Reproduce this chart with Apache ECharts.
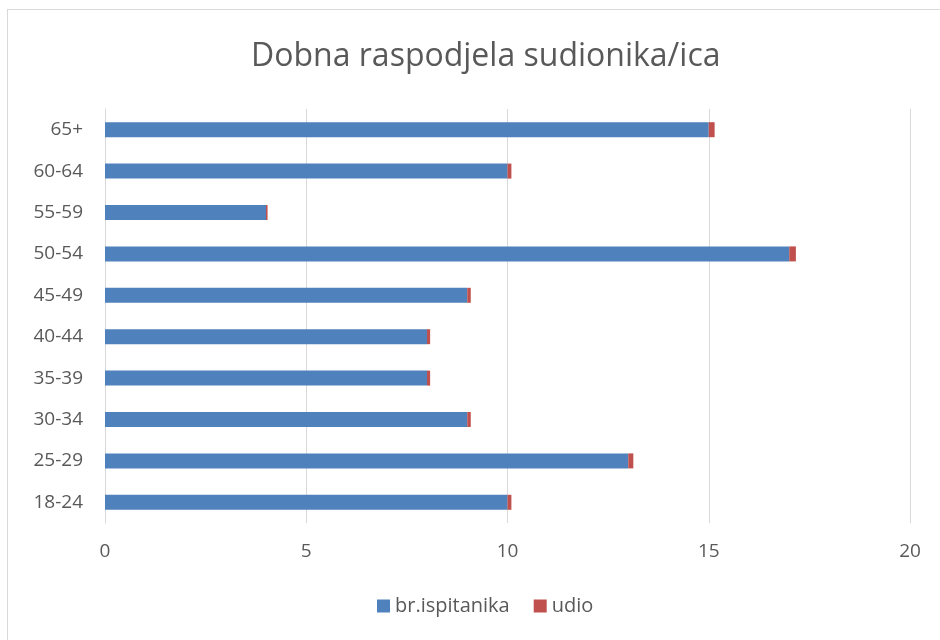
<!DOCTYPE html>
<html>
	<head>
		<meta charset="UTF-8">
		<title></title>
		<script src="https://cdn.jsdelivr.net/npm/echarts@6/dist/echarts.min.js"></script>
		<style>
			body { margin: 0; background: #fff; overflow: hidden; }
			#frame { position: absolute; left: 7px; top: 9px; width: 1000px; height: 1000px; border: 1px solid #d9d9d9; }
			#chart { position: absolute; left: 0; top: 0; width: 940px; height: 640px; }
		</style>
	</head>
	<body>
		<div id="frame"></div>
		<div id="chart"></div>
		<script type="text/javascript">
			var kategorije = ['18-24', '25-29', '30-34', '35-39', '40-44', '45-49', '50-54', '55-59', '60-64', '65+'];
			var brIspitanika = [10, 13, 9, 8, 8, 9, 17, 4, 10, 15];
			var udio = [0.097, 0.126, 0.087, 0.078, 0.078, 0.087, 0.165, 0.039, 0.097, 0.146];
			var xTicks = [0, 5, 10, 15, 20];

			var myChart = echarts.init(document.getElementById('chart'));
			var font = 'Open Sans, sans-serif';
			var option = {
				color: ['#4f81bd', '#c0504d'],
				animation: false,
				title: {
					text: 'Dobna raspodjela sudionika/ica',
					left: 246,
					top: 36,
					textStyle: { color: '#595959', fontSize: 32, fontWeight: 'normal', fontFamily: font }
				},
				legend: {
					bottom: 19,
					left: 372,
					itemWidth: 13,
					itemHeight: 13,
					itemGap: 24,
					itemStyle: { borderWidth: 0 },
					icon: 'rect',
					textStyle: { color: '#595959', fontSize: 20, fontFamily: font },
					data: ['br.ispitanika', 'udio']
				},
				grid: { left: 105, right: 30, top: 109, bottom: 117 },
				xAxis: {
					type: 'value',
					min: xTicks[0],
					max: xTicks[xTicks.length - 1],
					interval: 5,
					axisLine: { show: false },
					axisTick: { show: false },
					splitLine: { lineStyle: { color: '#d9d9d9', width: 1 } },
					axisLabel: { color: '#595959', fontSize: 19, fontFamily: font, margin: 19 }
				},
				yAxis: {
					type: 'category',
					data: kategorije,
					axisLine: { lineStyle: { color: '#d9d9d9' } },
					axisTick: { show: false },
					axisLabel: { color: '#595959', fontSize: 19, fontFamily: font, margin: 22 }
				},
				series: [
					{ name: 'br.ispitanika', type: 'bar', stack: 'a', barWidth: 15, data: brIspitanika },
					{ name: 'udio', type: 'bar', stack: 'a', barWidth: 15, data: udio }
				]
			};
			myChart.setOption(option);
		</script>
	</body>
</html>
